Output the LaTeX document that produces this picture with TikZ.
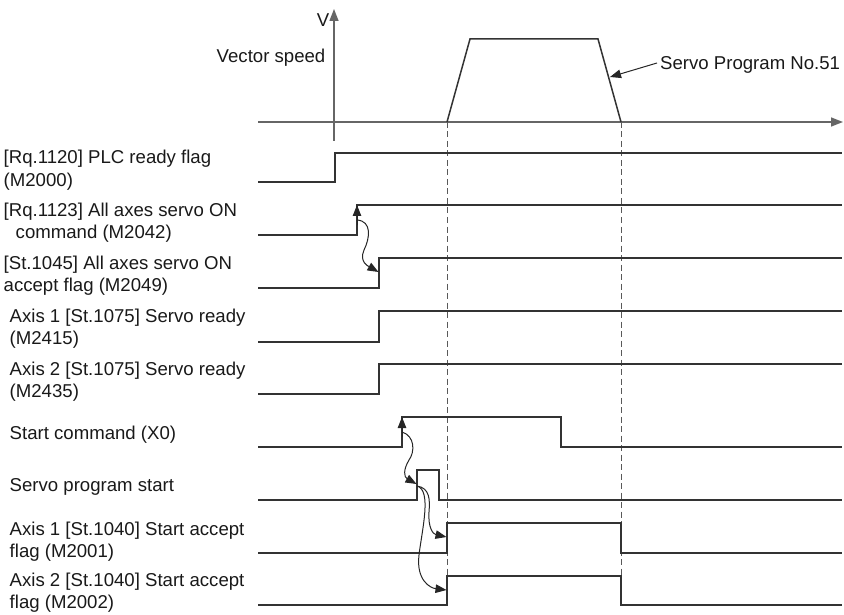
\documentclass[tikz,border=0pt]{standalone}
\usepackage{fontspec}
\setmainfont{Liberation Sans}
\usetikzlibrary{arrows.meta}
\begin{document}
\begin{tikzpicture}[x=1pt,y=-1pt,
  sig/.style={draw=black!80, line width=1.5pt, line join=miter},
  axisline/.style={draw=black!60, line width=1.4pt, -{Triangle[length=12pt,width=9pt]}},
  guide/.style={draw=black!65, line width=1pt, dash pattern=on 6pt off 3.5pt},
  cause/.style={draw=black!85, line width=1pt, -{Triangle[length=11pt,width=8.5pt]}},
  lbl/.style={inner sep=0pt, anchor=base west, font=\fontsize{18.6}{22}\selectfont, text=black!90},
]
\useasboundingbox (0,0) rectangle (844,615);

% axes
\coordinate (vbot) at (334,141);
\coordinate (vtop) at (334,9);
\coordinate (hleft) at (258,122);
\coordinate (hright) at (843,122);
\draw[axisline] (vbot) -- (vtop);
\draw[axisline] (hleft) -- (hright);
\node[lbl, anchor=base east] (vlab) at (329.5,26.5) {V};
\node[lbl, anchor=base east] (vslab) at (325.5,62.5) {Vector speed};

% speed trapezoid
\coordinate (t0) at (447,122);
\coordinate (t1) at (470,39);
\coordinate (t2) at (598,39);
\coordinate (t3) at (621,122);
\draw[sig] (t0) -- (t1) -- (t2) -- (t3);
\node[lbl] (splab) at (660,69.5) {Servo Program No.51};
\coordinate (sparr) at (657,63);
\coordinate (sptip) at (610,77);
\draw[cause] (sparr) -- (sptip);

% dashed guides
\coordinate (g1b) at (447,576);
\coordinate (g2b) at (621,576);
\draw[guide] (t0) -- (g1b);
\draw[guide] (t3) -- (g2b);

% signals
\draw[sig] (258,182) -- (335,182) -- (335,153) -- (842,153);
\draw[sig] (258,235) -- (357,235) -- (357,205) -- (842,205);
\draw[sig] (258,288) -- (379,288) -- (379,258) -- (842,258);
\draw[sig] (258,342) -- (379,342) -- (379,311) -- (842,311);
\draw[sig] (258,394) -- (379,394) -- (379,364) -- (842,364);
\draw[sig] (258,447) -- (402,447) -- (402,417) -- (561,417) -- (561,447) -- (842,447);
\draw[sig] (258,500) -- (417,500) -- (417,470) -- (439,470) -- (439,500) -- (842,500);
\draw[sig] (258,553) -- (447,553) -- (447,523) -- (621,523) -- (621,553) -- (842,553);
\draw[sig] (258,605) -- (447,605) -- (447,576) -- (621,576) -- (621,605) -- (842,605);

% labels
\node[lbl] (l1a) at (3.5,164) {[Rq.1120] PLC ready flag};
\node[lbl] (l1b) at (3.5,186) {(M2000)};
\node[lbl] (l2a) at (3.5,216.5) {[Rq.1123] All axes servo ON};
\node[lbl] (l2b) at (15.5,238.5) {command (M2042)};
\node[lbl] (l3a) at (3.5,269.5) {[St.1045] All axes servo ON};
\node[lbl] (l3b) at (3.5,291.5) {accept flag (M2049)};
\node[lbl] (l4a) at (9.5,322.5) {Axis 1 [St.1075] Servo ready};
\node[lbl] (l4b) at (9.5,344.5) {(M2415)};
\node[lbl] (l5a) at (9.5,375.5) {Axis 2 [St.1075] Servo ready};
\node[lbl] (l5b) at (9.5,397.5) {(M2435)};
\node[lbl] (l6) at (9.5,439.5) {Start command (X0)};
\node[lbl] (l7) at (9.5,491.5) {Servo program start};
\node[lbl] (l8a) at (9.5,535.5) {Axis 1 [St.1040] Start accept};
\node[lbl] (l8b) at (9.5,557.5) {flag (M2001)};
\node[lbl] (l9a) at (9.5,586.5) {Axis 2 [St.1040] Start accept};
\node[lbl] (l9b) at (9.5,608.5) {flag (M2002)};

% cause arrows
\coordinate (e1lo) at (357,225);
\coordinate (e1hi) at (357,205);
\draw[cause] (e1lo) -- (e1hi);
\coordinate (a1s) at (357,220);
\coordinate (a1m) at (364,250);
\coordinate (a1e) at (378.5,272);
\draw[cause] (a1s) .. controls (372,221) and (370,238) .. (a1m) .. controls (359,262) and (368,266) .. (a1e);

\coordinate (e2lo) at (402,437);
\coordinate (e2hi) at (402,417);
\draw[cause] (e2lo) -- (e2hi);
\coordinate (a2s) at (402,432);
\coordinate (a2m) at (409,460);
\coordinate (a2e) at (416.5,484);
\draw[cause] (a2s) .. controls (415,436) and (415,452) .. (a2m) .. controls (403,470) and (404,477) .. (a2e);

\coordinate (a3s) at (417,486);
\coordinate (a3m) at (429,512);
\coordinate (a3e) at (446.5,537);
\draw[cause] (a3s) .. controls (430,488) and (430,500) .. (a3m) .. controls (428,528) and (433,534) .. (a3e);
\coordinate (a4m) at (419,555);
\coordinate (a4e) at (446.5,590);
\draw[cause] (a3s) .. controls (432,490) and (422,530) .. (a4m) .. controls (416,580) and (430,588) .. (a4e);
\end{tikzpicture}
\end{document}
